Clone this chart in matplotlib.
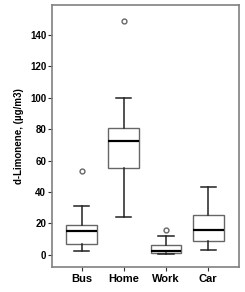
import matplotlib
matplotlib.use('Agg')
import matplotlib.pyplot as plt

plt.rcParams['font.family'] = ['Liberation Sans', 'DejaVu Sans']

groups = ['Bus', 'Home', 'Work', 'Car']
whislo = [2.8, 24.3, 0.4, 3.4]
q1 = [7.0, 55.0, 1.5, 8.8]
med = [15.0, 72.5, 2.2, 16.0]
q3 = [19.3, 80.5, 6.6, 25.4]
whishi = [30.8, 100.0, 12.3, 43.3]
outliers = [[53.5], [149.0], [15.8], []]

stats = []
for i, g in enumerate(groups):
    stats.append({'label': g, 'whislo': whislo[i], 'q1': q1[i], 'med': med[i],
                  'q3': q3[i], 'whishi': whishi[i], 'fliers': outliers[i]})

fig = plt.figure(figsize=(2.45, 2.92), dpi=100)
ax = fig.add_axes([0.211, 0.087, 0.763, 0.895])

ax.bxp(stats, widths=0.73, patch_artist=True,
       boxprops=dict(facecolor='white', edgecolor='#666666', linewidth=1.0),
       medianprops=dict(color='black', linewidth=1.6),
       whiskerprops=dict(color='#222222', linewidth=1.1),
       capprops=dict(color='#222222', linewidth=1.1),
       capwidths=0.36,
       flierprops=dict(marker='o', markersize=3.5, markerfacecolor='white',
                       markeredgecolor='#666666', markeredgewidth=1.0))

ax.set_xlim(0.29, 4.72)
ax.set_ylim(-7.4, 158.7)
ax.set_yticks([0, 20, 40, 60, 80, 100, 120, 140])
ax.tick_params(axis='y', labelsize=7, length=3, width=0.8, color='#333333', pad=1)
ax.tick_params(axis='x', labelsize=8, length=3, width=0.8, color='#333333', pad=2)
for lbl in ax.get_yticklabels() + ax.get_xticklabels():
    lbl.set_fontweight('bold')

ax.set_ylabel('d-Limonene, (µg/m3)', fontsize=7, fontweight='bold', labelpad=4)

for s in ax.spines.values():
    s.set_color('#808080')
    s.set_linewidth(1.2)

plt.savefig('out.png', dpi=100)
